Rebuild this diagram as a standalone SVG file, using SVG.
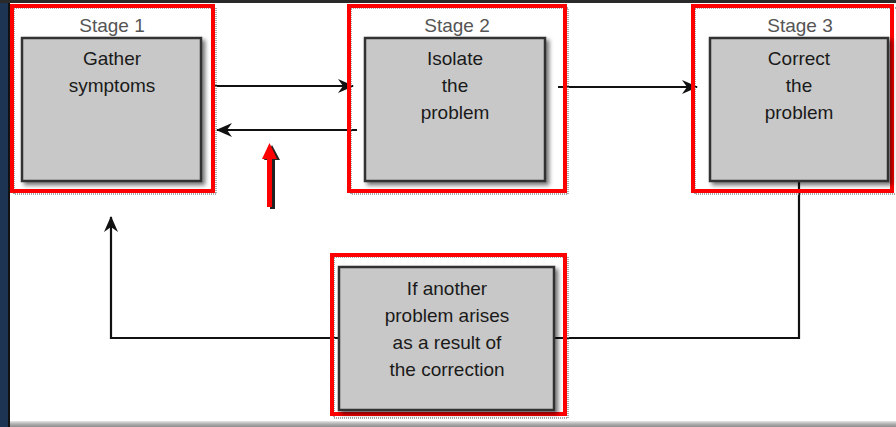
<svg xmlns="http://www.w3.org/2000/svg" width="896" height="427" viewBox="0 0 896 427">
  <defs>
    <style>
      .frame { fill: none; stroke: #ff0000; stroke-width: 4; }
      .dots { fill: none; stroke: #8a8a8a; stroke-width: 1.5; stroke-dasharray: 1 1; }
      .box { fill: #c8c8c8; stroke: #333333; stroke-width: 2.5; filter: url(#shadow); }
      .stage { font-family: "Liberation Sans", Arial, sans-serif; font-size: 19px; fill: #555555; text-anchor: middle; }
      .label { font-family: "Liberation Sans", Arial, sans-serif; font-size: 19px; fill: #1a1a1a; text-anchor: middle; }
      .wire { fill: none; stroke: #111111; stroke-width: 2.2; }
    </style>
    <filter id="shadow" x="-10%" y="-10%" width="130%" height="130%">
      <feDropShadow dx="3" dy="3" stdDeviation="2" flood-color="#000000" flood-opacity="0.55"/>
    </filter>
    <linearGradient id="bottomEdge" x1="0" y1="0" x2="0" y2="1">
      <stop offset="0" stop-color="#e6e6e6"/>
      <stop offset="0.5" stop-color="#b0b0b0"/>
      <stop offset="1" stop-color="#8c8c8c"/>
    </linearGradient>
    <marker id="head" viewBox="0 0 16 14" markerWidth="16" markerHeight="14" refX="15" refY="7" orient="auto" markerUnits="userSpaceOnUse">
      <path d="M0,0 L16,7 L0,14 L5,7 Z" fill="#111111"/>
    </marker>
  </defs>

  <!-- window frame -->
  <rect x="0" y="0" width="896" height="427" fill="#1d3553"/>
  <rect x="0" y="0" width="896" height="3" fill="#2a2a2a"/>
  <rect x="8" y="3" width="888" height="424" fill="#111111"/>
  <rect x="10" y="3" width="886" height="419" fill="#ffffff"/>
  <rect x="10" y="421" width="886" height="6" fill="url(#bottomEdge)"/>

  <!-- connectors -->
  <g id="connectors">
    <line class="wire" x1="214" y1="86" x2="353" y2="86" marker-end="url(#head)"/>
    <line class="wire" x1="357" y1="130" x2="217" y2="130" marker-end="url(#head)"/>
    <line class="wire" x1="558" y1="87" x2="697" y2="87" marker-end="url(#head)"/>
    <polyline class="wire" points="799,182 799,338 555,338"/>
    <polyline class="wire" points="339,338 111,338 111,217" marker-end="url(#head)"/>
  </g>

  <!-- stage 1 -->
  <g id="stage1">
    <rect class="dots" x="14" y="8" width="202" height="186"/>
    <rect class="frame" x="12" y="6" width="201" height="185"/>
    <text class="stage" x="112" y="32">Stage 1</text>
    <rect class="box" x="22" y="38" width="179" height="143"/>
    <text class="label" x="112" y="65">Gather</text>
    <text class="label" x="112" y="92">symptoms</text>
  </g>

  <!-- stage 2 -->
  <g id="stage2">
    <rect class="dots" x="351" y="8" width="217" height="186"/>
    <rect class="frame" x="349" y="6" width="216" height="185"/>
    <text class="stage" x="457" y="32">Stage 2</text>
    <rect class="box" x="365" y="38" width="180" height="143"/>
    <text class="label" x="455" y="65">Isolate</text>
    <text class="label" x="455" y="92">the</text>
    <text class="label" x="455" y="119">problem</text>
  </g>

  <!-- stage 3 -->
  <g id="stage3">
    <rect class="dots" x="695" y="8" width="203" height="186"/>
    <rect class="frame" x="693" y="6" width="199" height="185"/>
    <text class="stage" x="800" y="32">Stage 3</text>
    <rect class="box" x="710" y="38" width="178" height="143"/>
    <text class="label" x="799" y="65">Correct</text>
    <text class="label" x="799" y="92">the</text>
    <text class="label" x="799" y="119">problem</text>
  </g>

  <!-- follow-up condition -->
  <g id="recheck">
    <rect class="dots" x="334" y="257" width="234" height="161"/>
    <rect class="frame" x="332" y="255" width="233" height="159"/>
    <rect class="box" x="339" y="267" width="215" height="143"/>
    <text class="label" x="447" y="295">If another</text>
    <text class="label" x="447" y="322">problem arises</text>
    <text class="label" x="447" y="349">as a result of</text>
    <text class="label" x="447" y="376">the correction</text>
  </g>

  <!-- highlight arrow -->
  <g id="pointer">
    <path d="M273,159 L273,208 L268,208 L268,159 L262,159 L270,144 L278,159 Z" fill="#222222" transform="translate(2,1)"/>
    <path d="M272,159 L272,207 L267,207 L267,159 L262,159 L269.5,143 L277,159 Z" fill="#ff0000"/>
  </g>
</svg>
